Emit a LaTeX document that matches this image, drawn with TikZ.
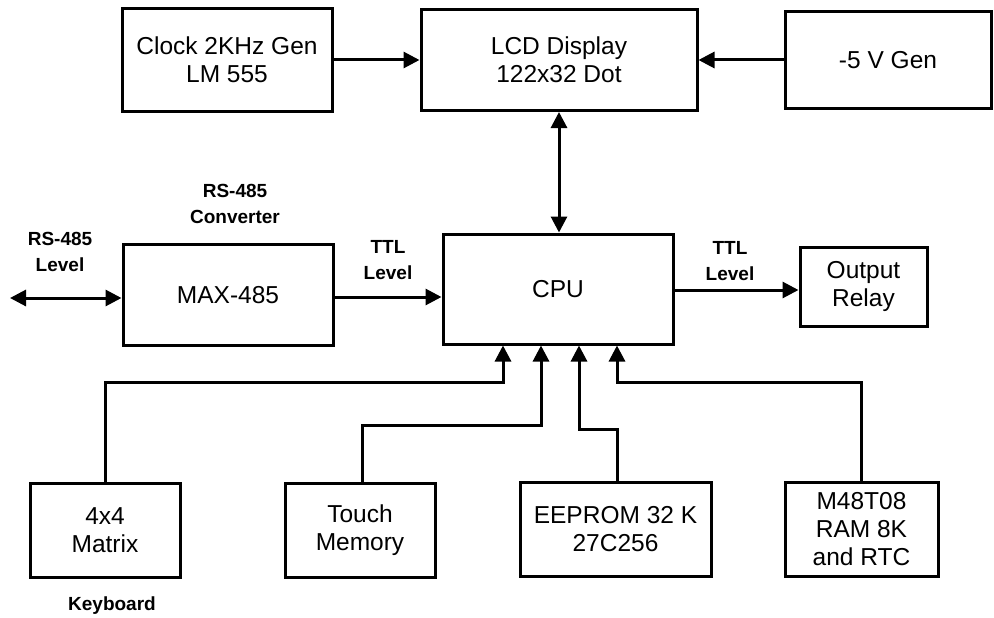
\documentclass[tikz,border=0pt]{standalone}
\usepackage{fontspec}
\setmainfont{Liberation Sans}
\usetikzlibrary{arrows.meta,calc}
\begin{document}
\begin{tikzpicture}[x=1pt,y=-1pt,
  blk/.style={draw=black, line width=3pt, align=center, inner sep=2pt,
    font=\fontsize{24.5}{28}\selectfont},
  lbl/.style={align=center, inner sep=0pt, font=\bfseries\fontsize{19}{26}\selectfont},
  conn/.style={line width=3pt, -{Triangle[length=16pt,width=16pt]}},
  bidir/.style={line width=3pt, {Triangle[length=16pt,width=16pt]}-{Triangle[length=16pt,width=16pt]}}
]
\useasboundingbox (0,0) rectangle (994,618);
% boxes
\node[blk, minimum width=210pt, minimum height=102pt] (clock) at (227,60) {Clock 2KHz Gen\\LM 555};
\node[blk, minimum width=276pt, minimum height=101pt] (lcd) at (559,60) {LCD Display\\122x32 Dot};
\node[blk, minimum width=206pt, minimum height=97pt] (neg) at (888,60) {-5 V Gen};
\node[blk, minimum width=210pt, minimum height=101pt] (max) at (228,295) {MAX-485};
\node[blk, minimum width=230pt, minimum height=110pt] (cpu) at (558,289) {CPU};
\node[blk, minimum width=127pt, minimum height=79pt] (relay) at (863.5,286.5) {Output\\Relay};
\node[blk, minimum width=150pt, minimum height=94pt] (kbd) at (105,530) {4x4\\Matrix};
\node[blk, minimum width=150pt, minimum height=94pt] (touch) at (360,530) {Touch\\Memory};
\node[blk, minimum width=191pt, minimum height=94pt] (eeprom) at (615.5,529) {EEPROM 32 K\\27C256};
\node[blk, minimum width=153pt, minimum height=94pt] (ram) at (861.5,529) {M48T08\\RAM 8K\\and RTC};
% labels
\node[lbl] (lconv) at (235,204) {RS-485\\Converter};
\node[lbl] (llev) at (60,252) {RS-485\\Level};
\node[lbl] (lttl1) at (388,260) {TTL\\Level};
\node[lbl] (lttl2) at (730,261) {TTL\\Level};
\node[lbl] (lkey) at (112,606) {Keyboard};
% connectors
\coordinate (bus) at (10,298);
\draw[conn] (clock.east) -- (lcd.west);
\draw[conn] (neg.west) -- (neg.west -| lcd.east);
\draw[bidir] (lcd.south) -- (lcd.south |- cpu.north);
\draw[bidir] (bus) -- (bus -| max.west);
\draw[conn] ($(max.east)+(0,2)$) -- ($(max.east -| cpu.west)+(0,2)$);
\draw[conn] ($(cpu.east)+(0,1)$) -- ($(cpu.east -| relay.west)+(0,1)$);
\draw[conn] (kbd.north) |- (503,382) -- (503,0 |- cpu.south);
\draw[conn] ($(touch.north)+(2,0)$) |- (541,425) -- (541,0 |- cpu.south);
\draw[conn] ($(eeprom.north)+(1.5,0)$) |- (579,429) -- (579,0 |- cpu.south);
\draw[conn] (ram.north) |- (617,382) -- (617,0 |- cpu.south);
\end{tikzpicture}
\end{document}
